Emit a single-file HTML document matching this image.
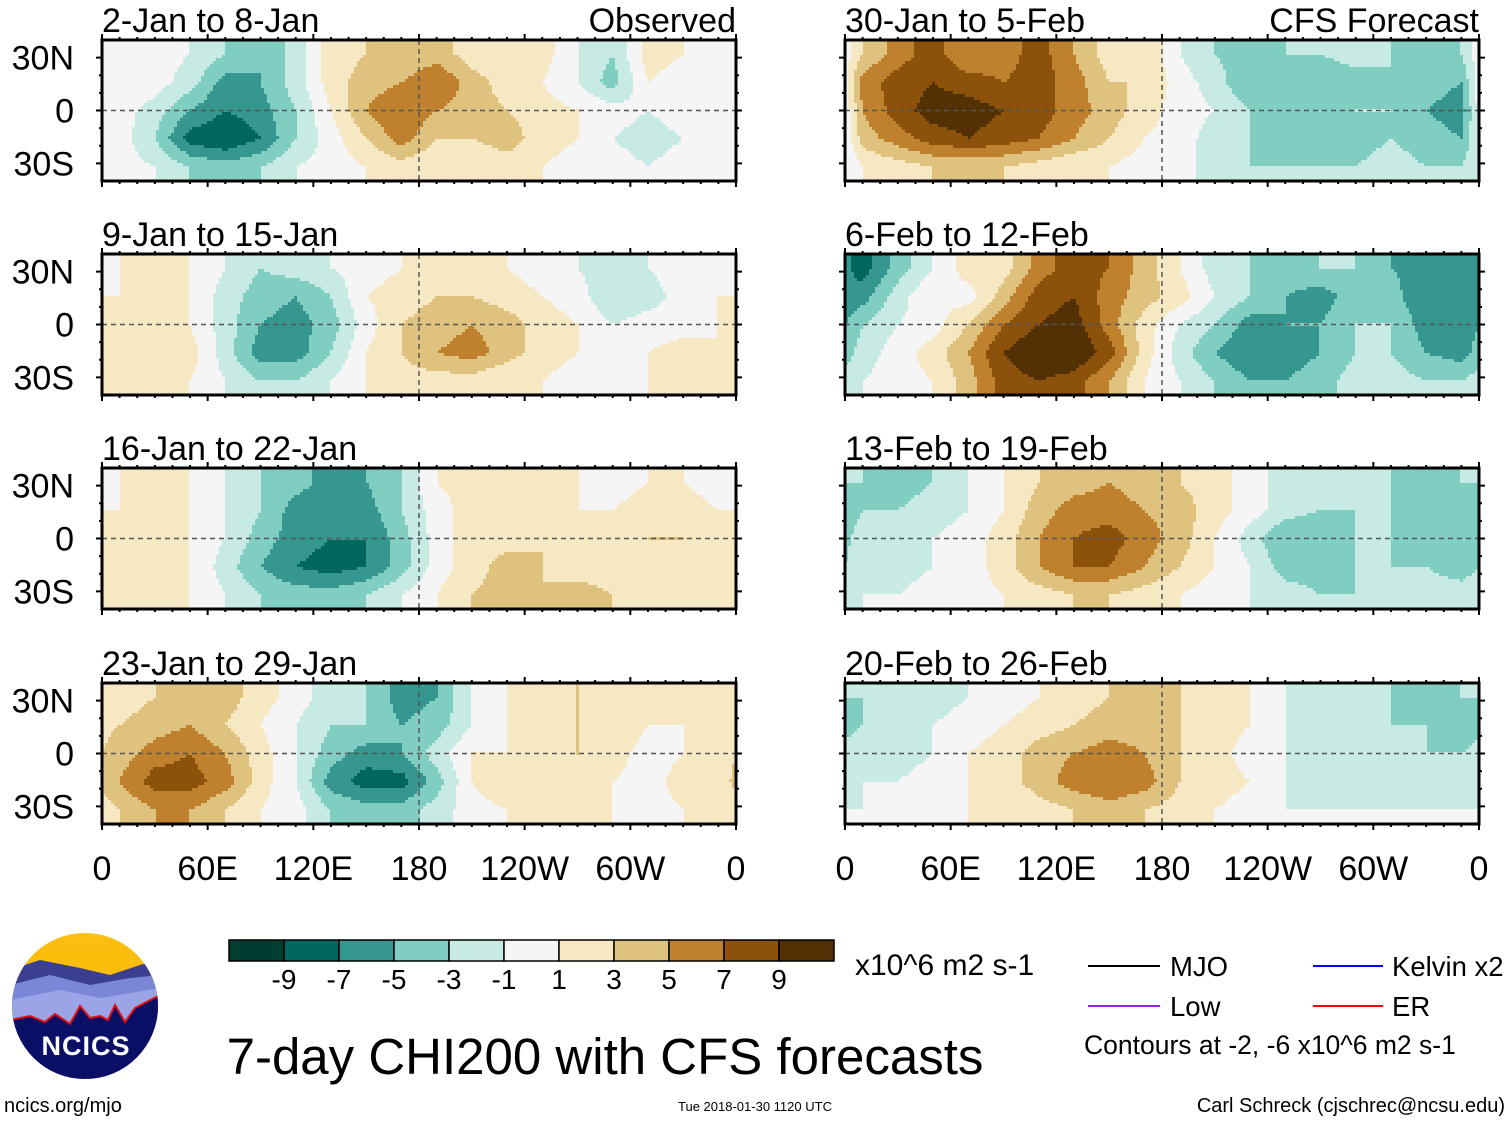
<!DOCTYPE html>
<html><head><meta charset="utf-8">
<style>
body{margin:0;background:#fff;font-family:"Liberation Sans",sans-serif;}
svg text{font-family:"Liberation Sans",sans-serif;}
</style></head>
<body>
<svg id="chart" width="1510" height="1121" viewBox="0 0 1510 1121" xmlns="http://www.w3.org/2000/svg">
<defs>
<linearGradient id="sky" x1="0" y1="0" x2="0" y2="1"><stop offset="0" stop-color="#fdc010"/><stop offset="1" stop-color="#f3b400"/></linearGradient>
<clipPath id="logoclip"><circle cx="85" cy="1006" r="73"/></clipPath>
</defs>
<g id="panels"></g>

<g id="colorbar"></g>
<text x="855" y="975" font-size="30">x10^6 m2 s-1</text>
<text x="605" y="1074" font-size="51" text-anchor="middle">7-day CHI200 with CFS forecasts</text>

<g>
<line x1="1088" y1="966" x2="1160" y2="966" stroke="#000" stroke-width="2"/>
<text x="1170" y="976" font-size="27.5">MJO</text>
<line x1="1088" y1="1006" x2="1160" y2="1006" stroke="#a020f0" stroke-width="2"/>
<text x="1170" y="1016" font-size="27.5">Low</text>
<line x1="1313" y1="966" x2="1383" y2="966" stroke="#0000ff" stroke-width="2"/>
<text x="1392" y="976" font-size="27.5">Kelvin x2</text>
<line x1="1313" y1="1006" x2="1383" y2="1006" stroke="#ff0000" stroke-width="2"/>
<text x="1392" y="1016" font-size="27.5">ER</text>
<text x="1084" y="1054" font-size="26.5">Contours at -2, -6 x10^6 m2 s-1</text>
</g>

<g>
<g clip-path="url(#logoclip)">
<rect x="10" y="930" width="150" height="150" fill="url(#sky)"/>
<path d="M10,970 L40,960 L80,968 L110,975 L140,965 L160,960 L160,1080 L10,1080Z" fill="#3a3f8f"/>
<path d="M10,985 L50,975 L90,985 L130,978 L160,975 L160,1080 L10,1080Z" fill="#7a86d8"/>
<path d="M10,1000 L60,990 L100,998 L160,988 L160,1080 L10,1080Z" fill="#9aa4e6"/>
<path d="M10,1020 L30,1016 L45,1022 L55,1014 L70,1024 L80,1006 L90,1018 L100,1016 L108,1020 L115,1005 L125,1022 L135,1008 L160,995 L160,1080 L10,1080Z" fill="#0a0f66" stroke="#e01010" stroke-width="2"/>
</g>
<text x="86" y="1055" font-size="27" font-weight="bold" fill="#fff" text-anchor="middle" letter-spacing="1">NCICS</text>
</g>
<text x="4" y="1112" font-size="20">ncics.org/mjo</text>
<text x="755" y="1111" font-size="13" text-anchor="middle">Tue 2018-01-30 1120 UTC</text>
<text x="1505" y="1112" font-size="20" text-anchor="end">Carl Schreck (cjschrec@ncsu.edu)</text>
</svg>
<script>
const lonCenters=[10,30,50,70,90,110,130,150,170,190,210,230,250,270,290,310,330,350];
const latCenters=[32,16,0,-16,-32];
const panelTitles=["2-Jan to 8-Jan","9-Jan to 15-Jan","16-Jan to 22-Jan","23-Jan to 29-Jan","30-Jan to 5-Feb","6-Feb to 12-Feb","13-Feb to 19-Feb","20-Feb to 26-Feb"];
const p1=[[0,0,-1,-3,-5,-2,2,3,3,4,2,1,2,-1,-3,2,1,0],[1,0,-2,-6,-5,-2,2,4,5,7,4,2,1,-1,-4,1,0,1],[0,-2,-5,-7,-6,-3,1,5,7,5,4,3,2,1,0,-1,0,0],[0,-3,-8,-9,-7,-3,0,3,6,3,3,4,2,1,-1,-2,-1,0],[0,-1,-3,-4,-3,-1,0,1,2,1,1,2,1,0,0,-1,0,0]];
const p2=[[1,2,1,-1,-3,-2,-1,0,1,2,2,1,0,-1,-2,-1,0,0],[1,2,1,-2,-4,-5,-3,1,2,3,3,2,1,0,-3,-2,0,1],[1,2,1,-2,-5,-6,-4,0,3,4,5,4,2,1,-1,0,0,1],[2,3,2,-2,-6,-6,-3,1,3,5,6,4,2,1,0,1,2,1],[1,2,1,-1,-3,-3,-1,1,2,2,2,1,1,0,0,1,1,1]];
const p3=[[1,2,1,-1,-3,-4,-6,-5,-3,1,2,2,1,1,0,1,1,0],[1,2,1,-1,-3,-6,-7,-6,-3,0,2,2,2,1,1,2,2,1],[2,2,1,-1,-4,-6,-7,-7,-4,0,2,2,3,2,1,3,3,1],[2,3,1,-2,-5,-7,-8,-7,-4,0,2,4,3,2,2,3,2,1],[2,2,1,-1,-3,-4,-4,-3,-1,1,3,4,3,4,3,2,1,1]];
const p4=[[2,3,4,4,2,0,-2,-3,-6,-5,-1,1,2,3,2,1,2,1],[3,4,5,3,1,-1,-3,-3,-5,-4,-1,1,2,3,3,1,1,2],[4,6,7,5,2,-1,-4,-6,-5,-2,1,1,2,3,2,0,1,2],[5,8,8,6,2,-1,-6,-8,-8,-4,1,3,3,2,1,0,2,2],[3,5,5,3,1,0,-3,-4,-4,-2,0,1,2,1,1,0,1,1]];
const p5=[[3,6,8,5,6,8,5,2,3,-1,-3,-4,-3,-3,-2,-3,-4,-3],[6,8,9,8,7,8,6,3,3,0,-2,-5,-4,-5,-4,-3,-4,-5],[5,8,10,10,9,8,6,4,2,0,-1,-3,-5,-4,-3,-3,-5,-6],[4,6,8,9,8,7,5,3,1,0,-2,-3,-5,-5,-4,-3,-4,-5],[1,2,3,3,3,2,1,1,0,0,-2,-3,-3,-3,-3,-2,-3,-3]];
const p6=[[-8,-4,-1,2,2,6,8,7,4,1,-2,-3,-4,-3,-3,-5,-6,-5],[-6,-2,1,0,4,8,9,6,4,2,-1,-3,-5,-6,-4,-4,-7,-7],[-3,-1,0,3,7,9,10,6,2,-1,-3,-6,-5,-5,-3,-3,-6,-7],[-2,0,2,5,9,11,11,8,2,-2,-5,-7,-6,-5,-3,-3,-5,-6],[-1,0,1,4,8,9,8,5,1,-1,-3,-5,-5,-4,-2,-2,-3,-3]];
const p7=[[-3,-4,-3,-1,1,3,4,5,4,3,2,0,-2,-3,-3,-3,-4,-3],[-3,-3,-2,-1,1,4,6,6,5,4,2,0,-2,-3,-3,-3,-4,-5],[-2,-2,-1,0,2,5,7,8,6,4,1,-2,-5,-5,-3,-3,-4,-5],[-2,-2,-1,0,2,5,7,7,5,3,1,-1,-4,-4,-3,-3,-3,-4],[-1,-1,0,0,1,2,3,3,2,1,0,-1,-2,-3,-3,-2,-2,-2]];
const p8=[[-3,-3,-2,-1,0,1,2,3,3,3,2,1,-1,-2,-3,-3,-4,-3],[-3,-2,-1,0,1,2,3,4,4,3,2,1,-1,-2,-2,-3,-3,-4],[-2,-2,-1,1,2,4,5,6,5,3,2,0,-1,-2,-2,-2,-3,-3],[-1,-1,0,1,2,4,6,7,6,3,2,1,-1,-2,-2,-2,-2,-3],[-1,0,0,1,1,2,3,4,3,2,1,0,-1,-1,-1,-1,-1,-1]];
const fields=[p1,p2,p3,p4,p5,p6,p7,p8];
const cbLevels=[-9,-7,-5,-3,-1,1,3,5,7,9];
const cbColors=["#003c30","#01665e","#35978f","#80cdc1","#c7eae5","#f5f5f5","#f6e8c3","#dfc27d","#bf812d","#8c510a","#543005"];
const lonTicks=["0","60E","120E","180","120W","60W","0"];
const latTicks=["30N","0","30S"];

const NS="http://www.w3.org/2000/svg";
function mk(tag,attrs,parent){const e=document.createElementNS(NS,tag);for(const k in attrs)e.setAttribute(k,attrs[k]);parent.appendChild(e);return e;}
function colorFor(v){let i=0;while(i<cbLevels.length&&v>=cbLevels[i])i++;return cbColors[i];}
function sample(f,lon,lat){
  let fi=(lon-10)/20; fi=((fi%18)+18)%18;
  const i0=Math.floor(fi),i1=(i0+1)%18,tx=fi-i0;
  let fj=(32-lat)/16; fj=Math.max(0,Math.min(4,fj));
  const j0=Math.min(3,Math.floor(fj)),j1=j0+1,ty=fj-j0;
  const a=f[j0][i0]*(1-tx)+f[j0][i1]*tx;
  const b=f[j1][i0]*(1-tx)+f[j1][i1]*tx;
  return a*(1-ty)+b*ty;
}
const colX=[102,845],rowY=[40,254,468,683],PW=634,PH=141;
const panelsG=document.getElementById('panels');
fields.forEach((f,pi)=>{
  const x0=colX[pi<4?0:1],y0=rowY[pi%4];
  const xs=lon=>x0+lon/360*PW;
  const ys=lat=>y0+PH/2-lat/80*PH;
  const g=mk('g',{},panelsG);
  
  
  const hg=mk('g',{'shape-rendering':'crispEdges'},g);
  const step=3;
  for(let py=0;py<PH;py+=step){
    const lat=40-(py+step/2)/PH*80;
    let runStart=0,runCol=null;
    for(let px=0;;px+=step){
      const done=px>=PW;
      const c=done?null:colorFor(sample(f,(px+step/2)/PW*360,lat));
      if(c!==runCol){
        if(runCol!==null){
          const r=mk('rect',{x:x0+runStart,y:y0+py,width:Math.min(px,PW)-runStart,height:Math.min(step,PH-py),fill:runCol},hg);
          
          
        }
        runStart=px;runCol=c;
      }
      if(done)break;
    }
  }
  mk('line',{x1:x0,y1:ys(0),x2:x0+PW,y2:ys(0),stroke:'#555','stroke-dasharray':'5,4','stroke-width':1.5},g);
  mk('line',{x1:xs(180),y1:y0,x2:xs(180),y2:y0+PH,stroke:'#555','stroke-dasharray':'5,4','stroke-width':1.5},g);
  mk('rect',{x:x0,y:y0,width:PW,height:PH,fill:'none',stroke:'#000','stroke-width':3},g);
  for(let l=0;l<=360;l+=10){const big=l%60===0;
    mk('line',{x1:xs(l),y1:y0,x2:xs(l),y2:y0-(big?6:3),stroke:'#000','stroke-width':2},g);
    mk('line',{x1:xs(l),y1:y0+PH,x2:xs(l),y2:y0+PH+(big?6:3),stroke:'#000','stroke-width':2},g);}
  for(let la=-30;la<=30;la+=10){
    mk('line',{x1:x0,y1:ys(la),x2:x0-(la%30===0?6:3),y2:ys(la),stroke:'#000','stroke-width':2},g);
    mk('line',{x1:x0+PW,y1:ys(la),x2:x0+PW+(la%30===0?6:3),y2:ys(la),stroke:'#000','stroke-width':2},g);}
  const t=mk('text',{x:x0,y:y0-8,'font-size':34},g);t.textContent=panelTitles[pi];
  
  
  if(pi===0||pi===4){const s=mk('text',{x:x0+PW,y:y0-8,'font-size':34,'text-anchor':'end'},g);s.textContent=pi===0?'Observed':'CFS Forecast';
    
    }
  if(pi<4){[30,0,-30].forEach((la,k)=>{const yt=mk('text',{x:74,y:ys(la)+12,'font-size':34,'text-anchor':'end'},g);yt.textContent=latTicks[k];
    
    });}
  if(pi%4===3){lonTicks.forEach((lb,k)=>{const xt=mk('text',{x:xs(k*60),y:880,'font-size':34,'text-anchor':'middle'},g);xt.textContent=lb;
    
    });}
});
const cb=document.getElementById('colorbar');
const bw=55,bx=229;
cbColors.forEach((c,i)=>{const r=mk('rect',{x:bx+i*bw,y:940,width:bw,height:21,fill:c,stroke:'#000','stroke-width':1.5},cb);
  
  });
cbLevels.forEach((v,i)=>{const t=mk('text',{x:bx+(i+1)*bw,y:989,'font-size':28,'text-anchor':'middle'},cb);t.textContent=v;
  
  });
</script>
</body></html>
